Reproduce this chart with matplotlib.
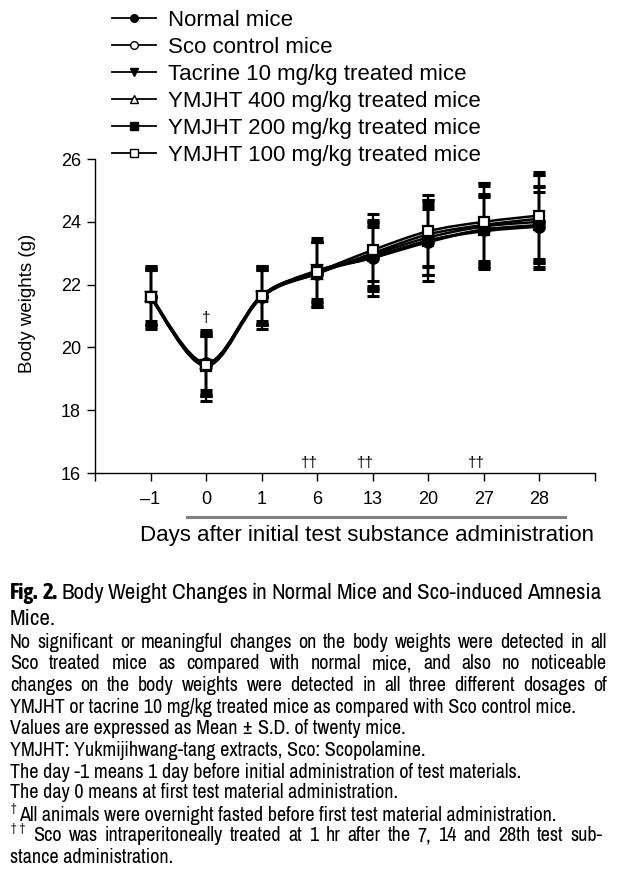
import matplotlib
matplotlib.use('Agg')
import matplotlib.pyplot as plt
from matplotlib.path import Path
from matplotlib.patches import PathPatch
from matplotlib.lines import Line2D

# data (body weight, g)
days = ['–1', '0', '1', '6', '13', '20', '27', '28']

labels = ['Normal mice', 'Sco control mice', 'Tacrine 10 mg/kg treated mice',
          'YMJHT 400 mg/kg treated mice', 'YMJHT 200 mg/kg treated mice',
          'YMJHT 100 mg/kg treated mice']

normal_mean = [21.6, 19.45, 21.65, 22.4, 22.85, 23.35, 23.75, 23.85]
sco_mean = [21.6, 19.5, 21.6, 22.35, 22.95, 23.5, 23.85, 24.0]
tacrine_mean = [21.6, 19.45, 21.6, 22.45, 22.85, 23.4, 23.7, 23.85]
ym400_mean = [21.65, 19.5, 21.65, 22.35, 23.0, 23.6, 23.9, 24.1]
ym200_mean = [21.6, 19.4, 21.6, 22.4, 22.9, 23.4, 23.75, 23.9]
ym100_mean = [21.6, 19.45, 21.65, 22.4, 23.1, 23.7, 24.0, 24.2]

normal_sd = [0.95, 0.9, 0.95, 0.95, 1.0, 1.05, 1.1, 1.3]
sco_sd = [0.9, 1.05, 0.85, 1.0, 1.05, 1.2, 1.3, 1.5]
tacrine_sd = [0.85, 1.0, 0.9, 0.9, 1.2, 1.1, 1.2, 1.1]
ym400_sd = [0.8, 0.85, 0.8, 1.05, 0.9, 1.0, 1.35, 1.4]
ym200_sd = [1.0, 1.1, 1.0, 1.1, 1.1, 1.3, 1.05, 1.2]
ym100_sd = [0.9, 0.95, 0.9, 0.95, 1.15, 1.15, 1.25, 1.4]

means = [normal_mean, sco_mean, tacrine_mean, ym400_mean, ym200_mean, ym100_mean]
sds = [normal_sd, sco_sd, tacrine_sd, ym400_sd, ym200_sd, ym100_sd]
markers = ['o', 'o', 'v', '^', 's', 's']
faces = ['black', 'white', 'black', 'white', 'black', 'white']

FONT = 'Liberation Sans'
CAP = ['Archivo Narrow', 'DejaVu Sans']
CAP_BOLD = ['Asap Condensed', 'DejaVu Sans']
W, H = 619, 872

fig = plt.figure(figsize=(W / 100, H / 100), dpi=100)
ax = fig.add_axes([95 / W, 1 - 473 / H, 500 / W, 314 / H])


def smooth_path(xs, ys):
    # catmull-rom curve through the points, drawn as bezier segments
    pts = list(zip(xs, ys))
    verts = [pts[0]]
    codes = [Path.MOVETO]
    for i in range(len(pts) - 1):
        p0 = pts[max(i - 1, 0)]
        p1 = pts[i]
        p2 = pts[i + 1]
        p3 = pts[min(i + 2, len(pts) - 1)]
        c1 = (p1[0] + (p2[0] - p0[0]) / 6, p1[1] + (p2[1] - p0[1]) / 6)
        c2 = (p2[0] - (p3[0] - p1[0]) / 6, p2[1] - (p3[1] - p1[1]) / 6)
        verts += [c1, c2, p2]
        codes += [Path.CURVE4] * 3
    return Path(verts, codes)


x = list(range(len(days)))
for m, s in zip(means, sds):
    ax.add_patch(PathPatch(smooth_path(x, m), fill=False, lw=1.8,
                           edgecolor='black', zorder=2))
    ax.errorbar(x, m, yerr=s, fmt='none', ecolor='black', elinewidth=1.6,
                capsize=4.5, capthick=2.2, zorder=3)
for m, mk, fc in zip(means, markers, faces):
    ax.plot(x, m, ls='none', marker=mk, ms=7.5, mfc=fc, mec='black',
            mew=1.6, zorder=4)

ax.set_xlim(-1, 8)
ax.set_ylim(16, 26)
ax.set_xticks(range(-1, 9))
ax.set_xticklabels([''] + days + [''])
ax.set_yticks(range(16, 27, 2))
for sp in ['top', 'right']:
    ax.spines[sp].set_visible(False)
for sp in ['left', 'bottom']:
    ax.spines[sp].set_linewidth(1.0)
ax.tick_params(direction='out', length=6, width=1, labelsize=13)
ax.tick_params(axis='x', pad=7)
ax.tick_params(axis='y', pad=4)
for t in ax.get_xticklabels() + ax.get_yticklabels():
    t.set_family(FONT)
ax.set_ylabel('Body weights (g)', family=FONT, fontsize=13.5, va='center')
ax.yaxis.set_label_coords(-0.135, 0.541)

# daggers
ax.text(1, 20.95, '†', ha='center', va='center', fontsize=11, family=FONT)
for d in [3, 4, 6]:
    ax.text(d - 0.14, 16.33, '††', ha='center', va='center', fontsize=11,
            family=FONT)

fig.text(367 / W, 1 - 535 / H, 'Days after initial test substance administration',
         ha='center', va='center', fontsize=16, family=FONT)
fig.add_artist(Line2D([187 / W, 565 / W], [1 - 517 / H, 1 - 517 / H],
                      color='#808080', lw=2.2, transform=fig.transFigure))

handles = [Line2D([], [], color='black', lw=1.3, marker=mk, ms=5.5, mfc=fc,
                  mec='black', mew=1.0) for mk, fc in zip(markers, faces)]
fig.legend(handles, labels, loc='upper left', bbox_to_anchor=(112 / W, 1 - 10 / H),
           frameon=False, prop=dict(family=FONT, size=16), handlelength=2.0,
           handletextpad=0.5, labelspacing=0.27, borderpad=0, borderaxespad=0)

# caption
renderer = fig.canvas.get_renderer()


def justified(words, base, x0, x1, size, bold=0):
    texts = []
    for i, w in enumerate(words):
        if i < bold:
            texts.append(fig.text(0, 1 - base / H, w, fontsize=size, family=CAP_BOLD,
                                  weight='bold', va='baseline'))
        else:
            texts.append(fig.text(0, 1 - base / H, w, fontsize=size, family=CAP,
                                  va='baseline'))
    widths = [t.get_window_extent(renderer).width for t in texts]
    gap = (x1 - x0 - sum(widths)) / (len(words) - 1)
    pos = x0
    for t, wd in zip(texts, widths):
        t.set_x(pos / W)
        pos += wd + gap


def plain(text, base, x0, size):
    fig.text(x0 / W, 1 - base / H, text, fontsize=size, family=CAP, va='baseline')


justified('Fig. 2. Body Weight Changes in Normal Mice and Sco-induced Amnesia'.split(),
          599, 10, 601, 16.5, bold=2)
plain('Mice.', 625, 10, 16.5)

bs = 14.5
justified('No significant or meaningful changes on the body weights were detected in all'.split(),
          648, 10, 607, bs)
justified('Sco treated mice as compared with normal mice, and also no noticeable'.split(),
          669, 10, 607, bs)
justified('changes on the body weights were detected in all three different dosages of'.split(),
          691, 10, 607, bs)
plain('YMJHT or tacrine 10 mg/kg treated mice as compared with Sco control mice.', 713, 10, bs)
plain('Values are expressed as Mean ± S.D. of twenty mice.', 734, 10, bs)
plain('YMJHT: Yukmijihwang-tang extracts, Sco: Scopolamine.', 756, 10, bs)
plain('The day -1 means 1 day before initial administration of test materials.', 778, 10, bs)
plain('The day 0 means at first test material administration.', 798, 10, bs)
plain('†', 812, 11, 9)
plain('All animals were overnight fasted before first test material administration.', 821, 19, bs)
plain('† †', 832, 11, 9)
justified('Sco was intraperitoneally treated at 1 hr after the 7, 14 and 28th test sub-'.split(),
          841, 33, 603, bs)
plain('stance administration.', 863, 10, bs)

fig.savefig('out.png', dpi=100)
